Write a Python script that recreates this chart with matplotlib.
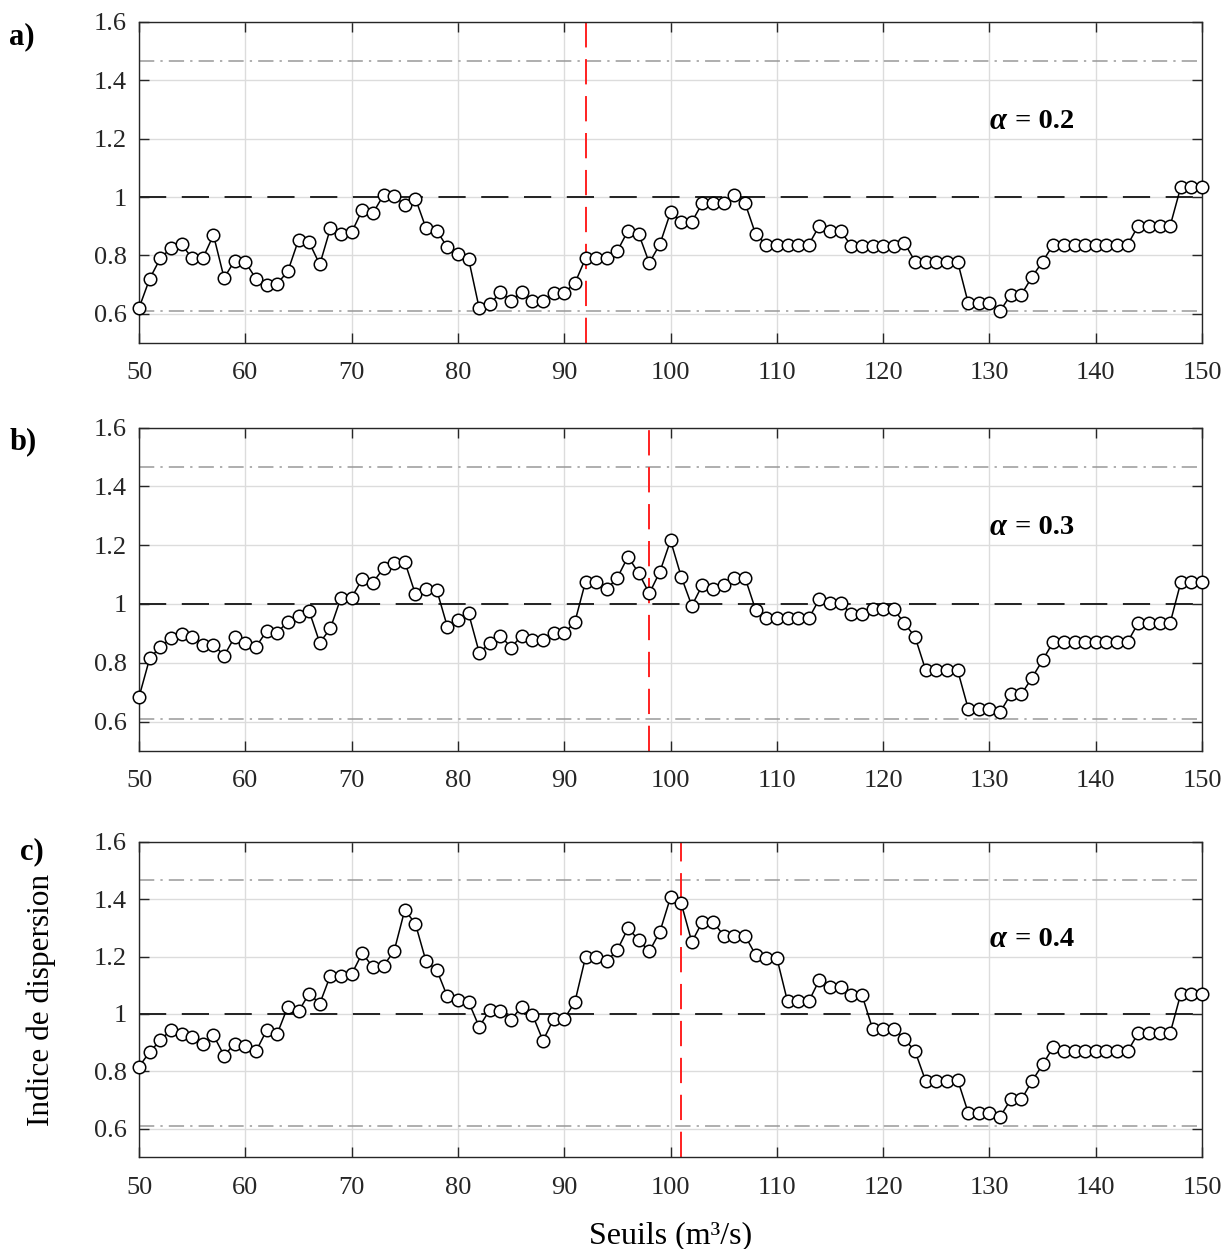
import matplotlib
matplotlib.use("Agg")
import matplotlib.pyplot as plt
import numpy as np

plt.rcParams['font.family'] = ['Liberation Serif', 'DejaVu Serif']
plt.rcParams['mathtext.fontset'] = 'stix'

seuils = np.arange(50, 151)

# indice de dispersion, alpha = 0.2
disp_a = [0.62, 0.72, 0.79, 0.825, 0.838, 0.79, 0.79, 0.87, 0.723, 0.782,
          0.777, 0.72, 0.697, 0.703, 0.746, 0.853, 0.845, 0.769, 0.893, 0.872,
          0.879, 0.956, 0.945, 1.007, 1.003, 0.973, 0.995, 0.893, 0.885, 0.828,
          0.805, 0.788, 0.619, 0.632, 0.674, 0.645, 0.676, 0.643, 0.643, 0.672,
          0.672, 0.705, 0.79, 0.79, 0.79, 0.816, 0.885, 0.874, 0.774, 0.839,
          0.948, 0.915, 0.915, 0.98, 0.98, 0.98, 1.008, 0.98, 0.873, 0.837,
          0.837, 0.837, 0.837, 0.837, 0.902, 0.883, 0.883, 0.833, 0.833, 0.833,
          0.833, 0.833, 0.843, 0.779, 0.779, 0.779, 0.779, 0.779, 0.637, 0.637,
          0.637, 0.609, 0.666, 0.666, 0.726, 0.779, 0.837, 0.837, 0.837, 0.837,
          0.837, 0.837, 0.837, 0.837, 0.902, 0.902, 0.902, 0.902, 1.035, 1.035,
          1.035]

# alpha = 0.3
disp_b = [0.684, 0.815, 0.854, 0.883, 0.897, 0.888, 0.862, 0.862, 0.824, 0.888,
          0.869, 0.854, 0.908, 0.903, 0.94, 0.96, 0.976, 0.868, 0.917, 1.022,
          1.022, 1.085, 1.073, 1.122, 1.141, 1.143, 1.033, 1.05, 1.048, 0.923,
          0.945, 0.968, 0.835, 0.866, 0.892, 0.852, 0.892, 0.877, 0.877, 0.9,
          0.9, 0.939, 1.076, 1.076, 1.05, 1.09, 1.161, 1.105, 1.036, 1.11,
          1.216, 1.093, 0.994, 1.065, 1.051, 1.065, 1.09, 1.09, 0.98, 0.951,
          0.951, 0.951, 0.951, 0.951, 1.017, 1.002, 1.003, 0.966, 0.966, 0.982,
          0.982, 0.982, 0.934, 0.888, 0.775, 0.775, 0.775, 0.775, 0.644, 0.644,
          0.644, 0.632, 0.693, 0.693, 0.749, 0.809, 0.871, 0.871, 0.871, 0.871,
          0.871, 0.871, 0.871, 0.871, 0.936, 0.936, 0.936, 0.936, 1.074, 1.074,
          1.074]

# alpha = 0.4
disp_c = [0.816, 0.868, 0.908, 0.945, 0.931, 0.92, 0.897, 0.926, 0.855, 0.897,
          0.887, 0.87, 0.943, 0.931, 1.026, 1.009, 1.071, 1.036, 1.134, 1.131,
          1.139, 1.212, 1.163, 1.168, 1.22, 1.363, 1.314, 1.183, 1.154, 1.061,
          1.05, 1.042, 0.955, 1.015, 1.009, 0.98, 1.026, 0.998, 0.907, 0.983,
          0.983, 1.042, 1.198, 1.198, 1.183, 1.224, 1.299, 1.258, 1.218, 1.287,
          1.407, 1.386, 1.251, 1.322, 1.322, 1.273, 1.273, 1.273, 1.206, 1.195,
          1.195, 1.044, 1.044, 1.044, 1.119, 1.094, 1.094, 1.067, 1.067, 0.949,
          0.949, 0.949, 0.913, 0.87, 0.766, 0.766, 0.766, 0.771, 0.656, 0.656,
          0.656, 0.642, 0.702, 0.702, 0.766, 0.824, 0.884, 0.87, 0.87, 0.87,
          0.87, 0.87, 0.87, 0.87, 0.934, 0.934, 0.934, 0.934, 1.071, 1.071,
          1.071]

series = [disp_a, disp_b, disp_c]
alphas = ['0.2', '0.3', '0.4']
seuil_opt = [92, 98, 101]
labels = ['a)', 'b)', 'c)']
label_x = [-0.122, -0.122, -0.112]
label_y = [1.0, 1.0, 1.015]
borne_sup = 1.467
borne_inf = 0.61

fig = plt.figure(figsize=(12.24, 12.49), dpi=100)
# panel boxes in figure fractions [left, bottom, width, height]
boxes = [[0.1136, 0.7254, 0.8685, 0.2570],
         [0.1136, 0.3987, 0.8685, 0.2590],
         [0.1136, 0.0733, 0.8685, 0.2527]]

for k in range(3):
    ax = fig.add_axes(boxes[k])
    ax.grid(True, color='#dcdcdc', linewidth=1.0)
    ax.set_axisbelow(True)

    ax.axhline(1.0, color='#222222', linestyle=(0, (14, 8)), linewidth=1.4)
    ax.axhline(borne_sup, color='#999999', linestyle=(0, (10, 4, 1.5, 4)), linewidth=1.1)
    ax.axhline(borne_inf, color='#999999', linestyle=(0, (10, 4, 1.5, 4)), linewidth=1.1)
    ax.axvline(seuil_opt[k], color='#ff2020', linestyle=(0, (13, 6)), linewidth=1.4)

    ax.plot(seuils, series[k], color='black', linewidth=1.1, marker='o',
            markersize=9, markerfacecolor='white', markeredgecolor='black',
            markeredgewidth=1.1, clip_on=False, zorder=5)

    ax.set_xlim(50, 150)
    ax.set_ylim(0.5, 1.6)
    ax.set_xticks(np.arange(50, 151, 10))
    ax.set_yticks([0.6, 0.8, 1.0, 1.2, 1.4, 1.6])
    ax.set_yticklabels(['0.6', '0.8', '1', '1.2', '1.4', '1.6'])
    ax.tick_params(direction='in', length=7, width=1.0, labelsize=19,
                   top=True, right=True, colors='#262626')
    ax.tick_params(axis='x', pad=14)
    ax.tick_params(axis='y', pad=9)
    for s in ax.spines.values():
        s.set_color('#262626')
        s.set_linewidth(1.0)

    ax.text(130.0, 1.26, 'α', fontsize=22, fontweight='bold',
            fontstyle='italic', ha='left', va='center')
    ax.text(131.7, 1.26, ' = ' + alphas[k], fontsize=20.5,
            fontweight='bold', ha='left', va='center')
    ax.text(label_x[k], label_y[k], labels[k], transform=ax.transAxes,
            fontsize=22, fontweight='bold', ha='left', va='top')

    if k == 2:
        ax.set_ylabel('Indice de dispersion', fontsize=22.5, labelpad=27)
        ax.set_xlabel('Seuils (m³/s)', fontsize=23, labelpad=16)

fig.savefig('out.png', dpi=100)
